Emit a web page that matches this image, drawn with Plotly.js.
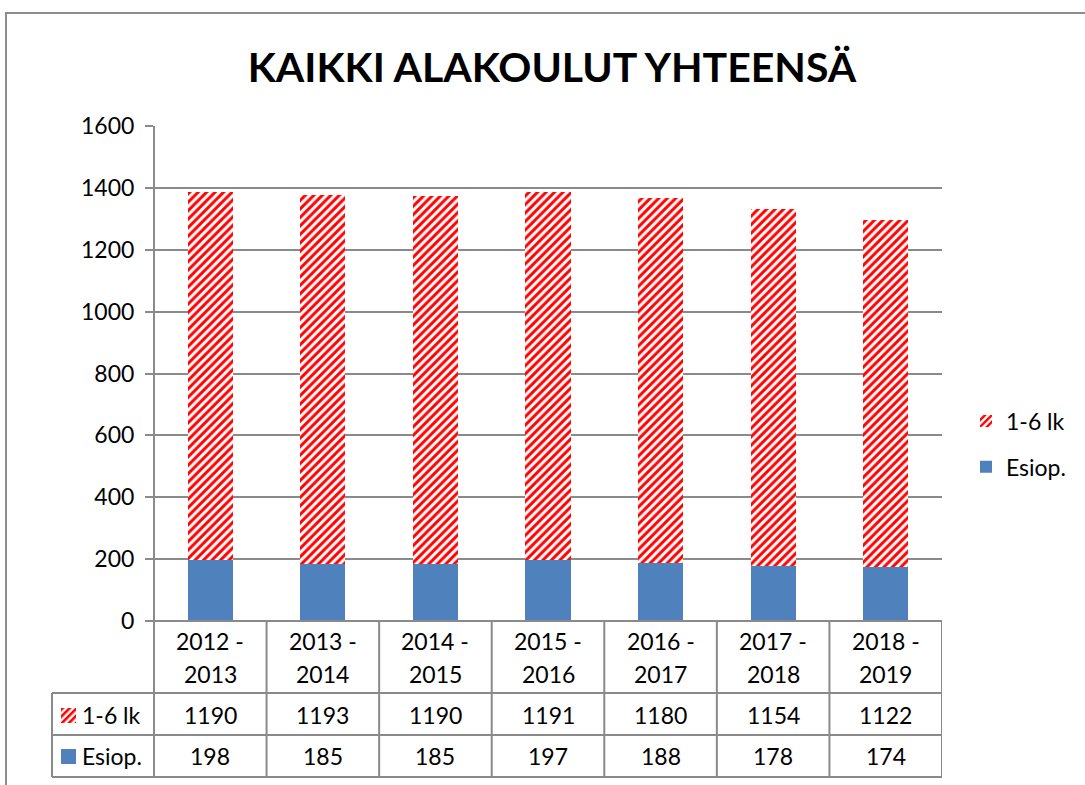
<!DOCTYPE html>
<html>
<head>
<meta charset="utf-8">
<script src="https://cdn.plot.ly/plotly-3.0.1.min.js"></script>
<style>html,body{margin:0;padding:0;background:#fff;}#chart{width:1085px;height:785px;}</style>
</head>
<body>
<div id="chart"></div>
<script>
const startYears = ['2012', '2013', '2014', '2015', '2016', '2017', '2018'];
const endYears = ['2013', '2014', '2015', '2016', '2017', '2018', '2019'];
const categories = ['2012 - 2013', '2013 - 2014', '2014 - 2015', '2015 - 2016', '2016 - 2017', '2017 - 2018', '2018 - 2019'];
const lk16 = [1190, 1193, 1190, 1191, 1180, 1154, 1122];
const esiop = [198, 185, 185, 197, 188, 178, 174];
const seriesNames = ['1-6 lk', 'Esiop.'];
const yTicks = [0, 200, 400, 600, 800, 1000, 1200, 1400, 1600];

const FONT = 'Lato, "Open Sans", sans-serif';
const GRID = '#8a8a8a';
const BLUE = '#4f81bd';
const RED = '#ff0000';

// plot area in pixels
const L = 154, R = 942, T = 126, B = 621;
const W = R - L, H = B - T;
const px = p => (p - L) / W;
const py = p => (B - p) / H;

const idx = categories.map((c, i) => i);

const traces = [
  {
    type: 'bar', name: seriesNames[1], x: idx, y: esiop,
    marker: {color: BLUE, line: {width: 0}},
    width: 0.4, legendgroup: 'b', legendrank: 2000, hoverinfo: 'skip'
  },
  {
    type: 'bar', name: seriesNames[0], x: idx, y: lk16,
    marker: {color: RED, line: {width: 0},
      pattern: {shape: '/', fgcolor: RED, bgcolor: '#ffffff', size: 6, solidity: 0.5, fillmode: 'replace'}},
    width: 0.4, legendgroup: 'a', legendrank: 1, hoverinfo: 'skip'
  }
];

const shapes = [];
const annotations = [];
const images = [];

// outer frame
shapes.push({type: 'rect', xref: 'paper', yref: 'paper', x0: px(6), x1: px(1100), y0: py(800), y1: py(13),
  line: {color: '#8c8c8c', width: 2}, fillcolor: 'rgba(0,0,0,0)', layer: 'below'});

// y axis line extended through table
shapes.push({type: 'line', xref: 'paper', yref: 'paper', x0: 0, x1: 0, y0: py(777), y1: 1, line: {color: GRID, width: 2}});
// table horizontal lines
const rowLines = [693, 735, 777];
rowLines.forEach(r => {
  shapes.push({type: 'line', xref: 'paper', yref: 'paper', x0: px(52), x1: 1, y0: py(r), y1: py(r), line: {color: GRID, width: 2}});
});
shapes.push({type: 'line', xref: 'paper', yref: 'paper', x0: 0, x1: 1, y0: 0, y1: 0, line: {color: GRID, width: 2}});
// left border of legend column
shapes.push({type: 'line', xref: 'paper', yref: 'paper', x0: px(52), x1: px(52), y0: py(777), y1: py(693), line: {color: GRID, width: 2}});
// column separators
for (let i = 0; i < categories.length; i++) {
  shapes.push({type: 'line', xref: 'x', yref: 'paper', x0: i + 0.5, x1: i + 0.5, y0: py(777), y1: 0, line: {color: GRID, width: 2}});
}

const tf = {family: FONT, size: 23, color: '#000'};
categories.forEach((c, i) => {
  annotations.push({xref: 'x', yref: 'paper', x: i, y: py(641), text: startYears[i] + ' -', showarrow: false, font: tf, xanchor: 'center', yanchor: 'middle'});
  annotations.push({xref: 'x', yref: 'paper', x: i, y: py(674), text: endYears[i], showarrow: false, font: tf, xanchor: 'center', yanchor: 'middle'});
  annotations.push({xref: 'x', yref: 'paper', x: i, y: py(715), text: String(lk16[i]), showarrow: false, font: tf, xanchor: 'center', yanchor: 'middle'});
  annotations.push({xref: 'x', yref: 'paper', x: i, y: py(756), text: String(esiop[i]), showarrow: false, font: tf, xanchor: 'center', yanchor: 'middle'});
});
annotations.push({xref: 'paper', yref: 'paper', x: px(80), y: py(715), text: seriesNames[0], showarrow: false, font: tf, xanchor: 'left', yanchor: 'middle'});
annotations.push({xref: 'paper', yref: 'paper', x: px(80), y: py(756), text: seriesNames[1], showarrow: false, font: tf, xanchor: 'left', yanchor: 'middle'});

// table keys
const stripeSvg = '<svg xmlns="http://www.w3.org/2000/svg" width="15" height="15"><defs><pattern id="p" width="5" height="5" patternUnits="userSpaceOnUse" patternTransform="rotate(45)"><rect width="5" height="5" fill="#fff"/><rect width="2.6" height="5" fill="#ff0000"/></pattern></defs><rect width="15" height="15" fill="url(#p)"/></svg>';
const blueSvg = '<svg xmlns="http://www.w3.org/2000/svg" width="15" height="15"><rect width="15" height="15" fill="' + BLUE + '"/></svg>';
const toUri = s => 'data:image/svg+xml;base64,' + btoa(s);
images.push({source: toUri(stripeSvg), xref: 'paper', yref: 'paper', x: px(61), y: py(708), sizex: 15 / W, sizey: 15 / H, xanchor: 'left', yanchor: 'top', sizing: 'stretch', layer: 'above'});
images.push({source: toUri(blueSvg), xref: 'paper', yref: 'paper', x: px(61), y: py(749), sizex: 15 / W, sizey: 15 / H, xanchor: 'left', yanchor: 'top', sizing: 'stretch', layer: 'above'});

const layout = {
  width: 1085, height: 785,
  margin: {l: L, r: 1085 - R, t: T, b: 785 - B, pad: 0, autoexpand: false},
  paper_bgcolor: '#fff', plot_bgcolor: '#fff',
  barmode: 'stack',
  showlegend: true,
  title: {text: 'KAIKKI ALAKOULUT YHTEENSÄ', font: {family: FONT, size: 41, color: '#000', weight: 'bold'},
    x: 552 / 1085, xanchor: 'center', y: 1 - 68 / 785, yanchor: 'middle', xref: 'container', yref: 'container'},
  xaxis: {range: [-0.5, categories.length - 0.5], showticklabels: false, showgrid: false, zeroline: false, ticks: '', showline: false, fixedrange: true},
  yaxis: {range: [0, 1600], tickvals: yTicks, ticktext: yTicks.map(String), showgrid: true, gridcolor: GRID, gridwidth: 2,
    zeroline: false, showline: false, ticks: 'outside', ticklen: 8, tickwidth: 2, tickcolor: GRID,
    tickfont: {family: FONT, size: 23, color: '#000'}, ticklabelstandoff: 6, fixedrange: true, automargin: false},
  legend: {x: px(966), y: py(444), xanchor: 'left', yanchor: 'middle', traceorder: 'grouped',
    font: {family: FONT, size: 23, color: '#000'}, tracegroupgap: 13, bgcolor: 'rgba(0,0,0,0)', itemclick: false},
  shapes: shapes, annotations: annotations, images: images
};

Plotly.newPlot('chart', traces, layout, {displayModeBar: false, staticPlot: true});
</script>
</body>
</html>
